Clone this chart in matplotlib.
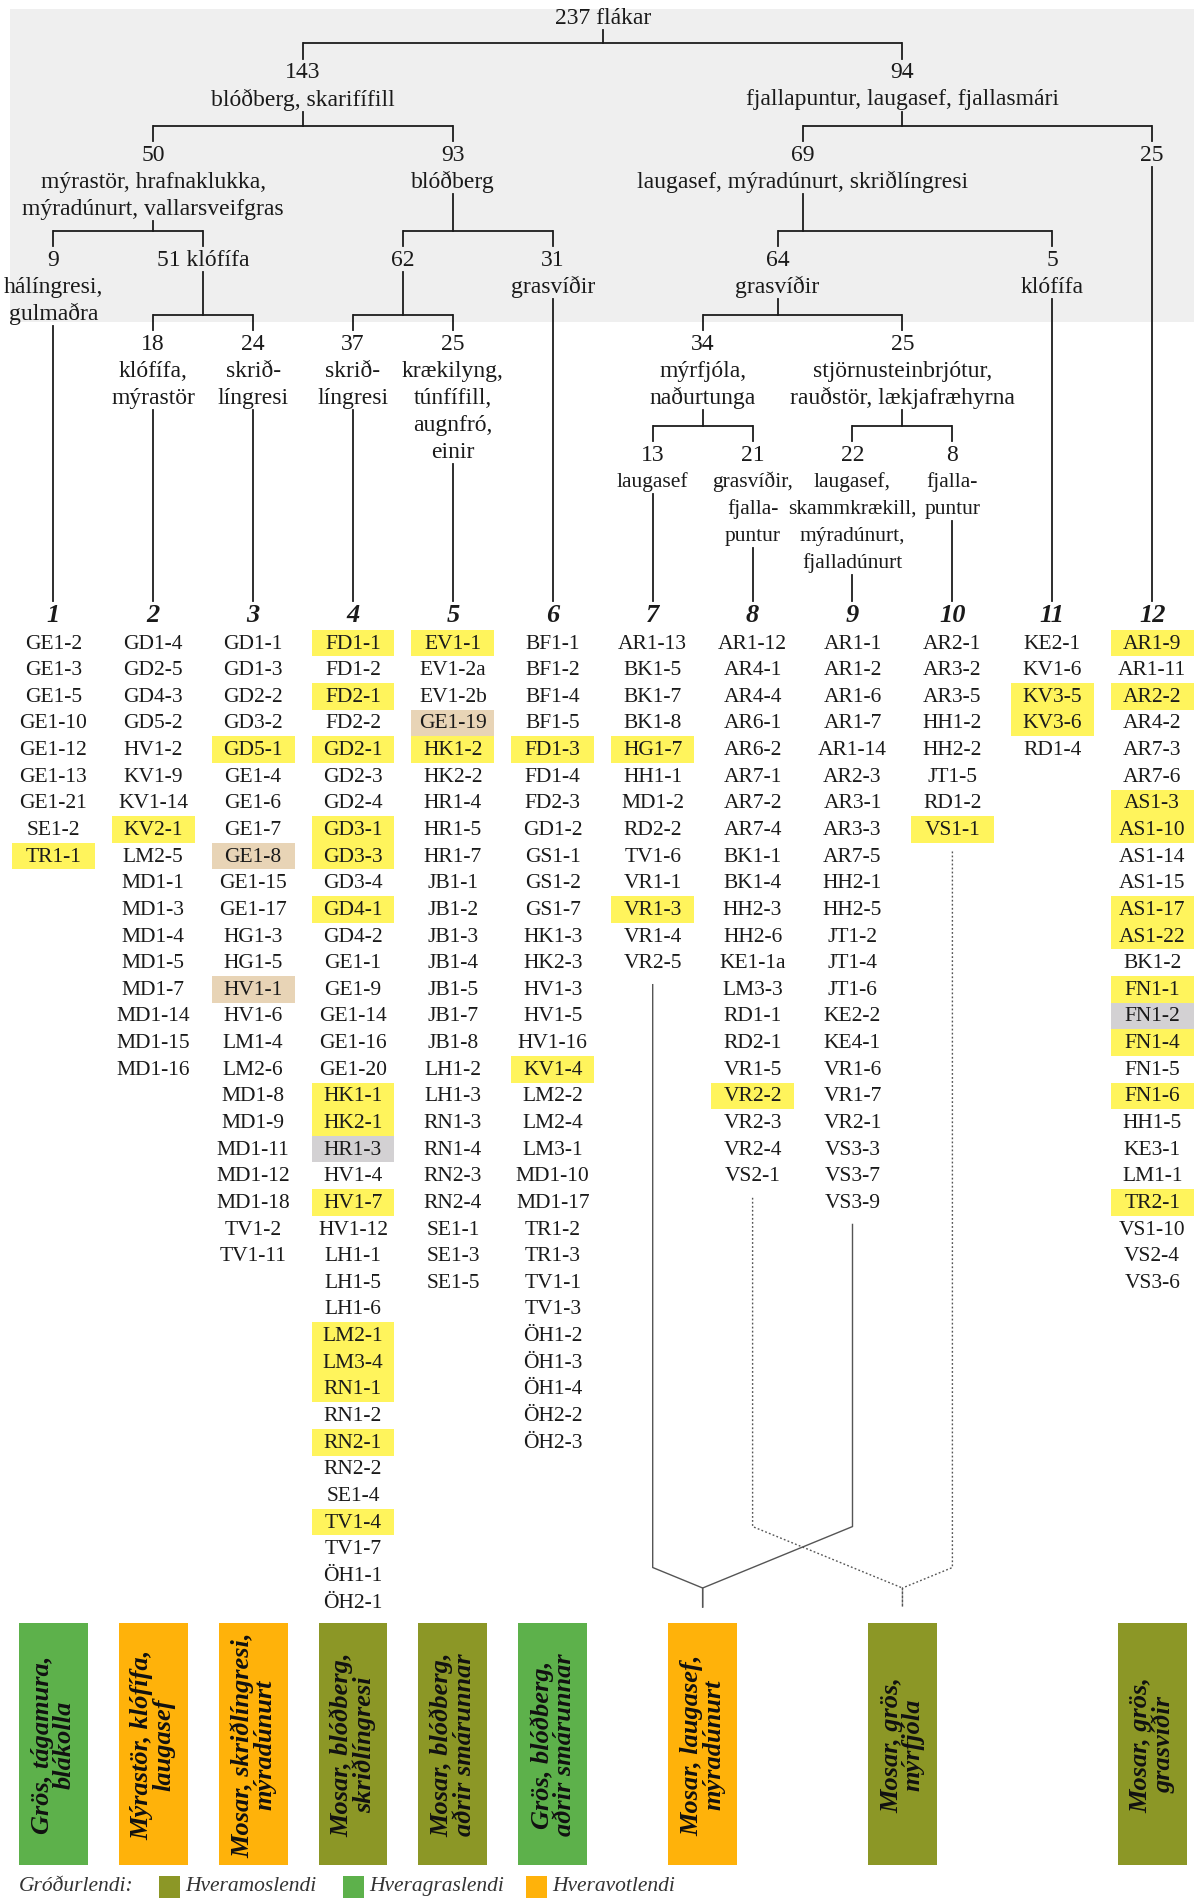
import matplotlib
matplotlib.use("Agg")
import matplotlib.pyplot as plt
from matplotlib.patches import Rectangle

plt.rcParams["font.family"] = ["Liberation Serif", "DejaVu Serif"]

# ---------------- data ----------------
total_label = "237 flákar"

cluster_names = ["1", "2", "3", "4", "5", "6", "7", "8", "9", "10", "11", "12"]

cluster_1 = ["GE1-2", "GE1-3", "GE1-5", "GE1-10", "GE1-12", "GE1-13", "GE1-21", "SE1-2", "TR1-1"]
cluster_2 = ["GD1-4", "GD2-5", "GD4-3", "GD5-2", "HV1-2", "KV1-9", "KV1-14", "KV2-1", "LM2-5",
             "MD1-1", "MD1-3", "MD1-4", "MD1-5", "MD1-7", "MD1-14", "MD1-15", "MD1-16"]
cluster_3 = ["GD1-1", "GD1-3", "GD2-2", "GD3-2", "GD5-1", "GE1-4", "GE1-6", "GE1-7", "GE1-8",
             "GE1-15", "GE1-17", "HG1-3", "HG1-5", "HV1-1", "HV1-6", "LM1-4", "LM2-6", "MD1-8",
             "MD1-9", "MD1-11", "MD1-12", "MD1-18", "TV1-2", "TV1-11"]
cluster_4 = ["FD1-1", "FD1-2", "FD2-1", "FD2-2", "GD2-1", "GD2-3", "GD2-4", "GD3-1", "GD3-3",
             "GD3-4", "GD4-1", "GD4-2", "GE1-1", "GE1-9", "GE1-14", "GE1-16", "GE1-20", "HK1-1",
             "HK2-1", "HR1-3", "HV1-4", "HV1-7", "HV1-12", "LH1-1", "LH1-5", "LH1-6", "LM2-1",
             "LM3-4", "RN1-1", "RN1-2", "RN2-1", "RN2-2", "SE1-4", "TV1-4", "TV1-7", "ÖH1-1", "ÖH2-1"]
cluster_5 = ["EV1-1", "EV1-2a", "EV1-2b", "GE1-19", "HK1-2", "HK2-2", "HR1-4", "HR1-5", "HR1-7",
             "JB1-1", "JB1-2", "JB1-3", "JB1-4", "JB1-5", "JB1-7", "JB1-8", "LH1-2", "LH1-3",
             "RN1-3", "RN1-4", "RN2-3", "RN2-4", "SE1-1", "SE1-3", "SE1-5"]
cluster_6 = ["BF1-1", "BF1-2", "BF1-4", "BF1-5", "FD1-3", "FD1-4", "FD2-3", "GD1-2", "GS1-1",
             "GS1-2", "GS1-7", "HK1-3", "HK2-3", "HV1-3", "HV1-5", "HV1-16", "KV1-4", "LM2-2",
             "LM2-4", "LM3-1", "MD1-10", "MD1-17", "TR1-2", "TR1-3", "TV1-1", "TV1-3", "ÖH1-2",
             "ÖH1-3", "ÖH1-4", "ÖH2-2", "ÖH2-3"]
cluster_7 = ["AR1-13", "BK1-5", "BK1-7", "BK1-8", "HG1-7", "HH1-1", "MD1-2", "RD2-2", "TV1-6",
             "VR1-1", "VR1-3", "VR1-4", "VR2-5"]
cluster_8 = ["AR1-12", "AR4-1", "AR4-4", "AR6-1", "AR6-2", "AR7-1", "AR7-2", "AR7-4", "BK1-1",
             "BK1-4", "HH2-3", "HH2-6", "KE1-1a", "LM3-3", "RD1-1", "RD2-1", "VR1-5", "VR2-2",
             "VR2-3", "VR2-4", "VS2-1"]
cluster_9 = ["AR1-1", "AR1-2", "AR1-6", "AR1-7", "AR1-14", "AR2-3", "AR3-1", "AR3-3", "AR7-5",
             "HH2-1", "HH2-5", "JT1-2", "JT1-4", "JT1-6", "KE2-2", "KE4-1", "VR1-6", "VR1-7",
             "VR2-1", "VS3-3", "VS3-7", "VS3-9"]
cluster_10 = ["AR2-1", "AR3-2", "AR3-5", "HH1-2", "HH2-2", "JT1-5", "RD1-2", "VS1-1"]
cluster_11 = ["KE2-1", "KV1-6", "KV3-5", "KV3-6", "RD1-4"]
cluster_12 = ["AR1-9", "AR1-11", "AR2-2", "AR4-2", "AR7-3", "AR7-6", "AS1-3", "AS1-10", "AS1-14",
              "AS1-15", "AS1-17", "AS1-22", "BK1-2", "FN1-1", "FN1-2", "FN1-4", "FN1-5", "FN1-6",
              "HH1-5", "KE3-1", "LM1-1", "TR2-1", "VS1-10", "VS2-4", "VS3-6"]

clusters = [cluster_1, cluster_2, cluster_3, cluster_4, cluster_5, cluster_6,
            cluster_7, cluster_8, cluster_9, cluster_10, cluster_11, cluster_12]

highlight_yellow = ["TR1-1", "KV2-1", "GD5-1", "FD1-1", "FD2-1", "GD2-1", "GD3-1", "GD3-3", "GD4-1",
                    "HK1-1", "HK2-1", "HV1-7", "LM2-1", "LM3-4", "RN1-1", "RN2-1", "TV1-4", "EV1-1",
                    "HK1-2", "FD1-3", "KV1-4", "HG1-7", "VR1-3", "VR2-2", "VS1-1", "KV3-5", "KV3-6",
                    "AR1-9", "AR2-2", "AS1-3", "AS1-10", "AS1-17", "AS1-22", "FN1-1", "FN1-4",
                    "FN1-6", "TR2-1"]
highlight_tan = ["GE1-8", "HV1-1", "GE1-19"]
highlight_gray = ["HR1-3", "FN1-2"]

# tree nodes: number and describing species
node_numbers = {"root": "", "n143": "143", "n94": "94", "n50": "50", "n93": "93", "n69": "69",
                "n25a": "25", "n9": "9", "n51": "51 klófífa", "n62": "62", "n31": "31", "n64": "64",
                "n5": "5", "n18": "18", "n24": "24", "n37": "37", "n25b": "25", "n34": "34",
                "n25c": "25", "n13": "13", "n21": "21", "n22": "22", "n8": "8"}
node_descriptions = {
    "root": [],
    "n143": ["blóðberg, skarifífill"],
    "n94": ["fjallapuntur, laugasef, fjallasmári"],
    "n50": ["mýrastör, hrafnaklukka,", "mýradúnurt, vallarsveifgras"],
    "n93": ["blóðberg"],
    "n69": ["laugasef, mýradúnurt, skriðlíngresi"],
    "n25a": [],
    "n9": ["hálíngresi,", "gulmaðra"],
    "n51": [],
    "n62": [],
    "n31": ["grasvíðir"],
    "n64": ["grasvíðir"],
    "n5": ["klófífa"],
    "n18": ["klófífa,", "mýrastör"],
    "n24": ["skrið-", "língresi"],
    "n37": ["skrið-", "língresi"],
    "n25b": ["krækilyng,", "túnfífill,", "augnfró,", "einir"],
    "n34": ["mýrfjóla,", "naðurtunga"],
    "n25c": ["stjörnusteinbrjótur,", "rauðstör, lækjafræhyrna"],
    "n13": ["laugasef"],
    "n21": ["grasvíðir,", "fjalla-", "puntur"],
    "n22": ["laugasef,", "skammkrækill,", "mýradúnurt,", "fjalladúnurt"],
    "n8": ["fjalla-", "puntur"],
}
node_children = {
    "root": ["n143", "n94"],
    "n143": ["n50", "n93"],
    "n94": ["n69", "n25a"],
    "n50": ["n9", "n51"],
    "n93": ["n62", "n31"],
    "n69": ["n64", "n5"],
    "n51": ["n18", "n24"],
    "n62": ["n37", "n25b"],
    "n64": ["n34", "n25c"],
    "n34": ["n13", "n21"],
    "n25c": ["n22", "n8"],
}
# leaf node -> cluster number
node_cluster = {"n9": 1, "n18": 2, "n24": 3, "n37": 4, "n25b": 5, "n31": 6, "n13": 7,
                "n21": 8, "n22": 9, "n8": 10, "n5": 11, "n25a": 12}

vegetation_texts = ["Grös, tágamura,\nblákolla", "Mýrastör, klófífa,\nlaugasef",
                    "Mosar, skriðlíngresi,\nmýradúnurt", "Mosar, blóðberg,\nskriðlíngresi",
                    "Mosar, blóðberg,\naðrir smárunnar", "Grös, blóðberg,\naðrir smárunnar",
                    "Mosar, laugasef,\nmýradúnurt", "Mosar, grös,\nmýrfjóla", "Mosar, grös,\ngrasvíðir"]
vegetation_types = ["gras", "votlendi", "votlendi", "mosa", "mosa", "gras", "votlendi", "mosa", "mosa"]
vegetation_clusters = [[1], [2], [3], [4], [5], [6], [7, 9], [8, 10], [12]]

legend_title = "Gróðurlendi:"
legend_labels = ["Hveramoslendi", "Hveragraslendi", "Hveravotlendi"]
legend_types = ["mosa", "gras", "votlendi"]

# ---------------- layout / style ----------------
type_colors = {"mosa": "#8C9726", "gras": "#5DB14B", "votlendi": "#FFB20A"}
YELLOW, TAN, GRAY = "#FFF45C", "#E8D4B6", "#D3D1D3"
LINE_C = "#1c1c1c"
TXT_C = "#1a1a1a"

W, H = 1194, 1899
X0, DX = 53.3, 99.9
fig = plt.figure(figsize=(W / 100, H / 100), dpi=100)
ax = fig.add_axes([0, 0, 1, 1])
ax.set_xlim(-X0 / DX, (W - X0) / DX)
ax.set_ylim(H, 0)
ax.axis("off")

def px(xpix):
    return (xpix - X0) / DX

# grey background of the upper tree
ax.add_patch(Rectangle((px(10), 10), px(1194) - px(10), 313, facecolor="#EFEFEF",
                       edgecolor="none", zorder=0))

node_x = {"root": 5.5, "n143": 2.5, "n94": 8.5, "n50": 1.0, "n93": 4.0, "n69": 7.5, "n25a": 11,
          "n9": 0, "n51": 1.5, "n62": 3.5, "n31": 5, "n64": 7.25, "n5": 10,
          "n18": 1, "n24": 2, "n37": 3, "n25b": 4, "n34": 6.5, "n25c": 8.5,
          "n13": 6, "n21": 7, "n22": 8, "n8": 9}
node_level = {"root": 0, "n143": 1, "n94": 1, "n50": 2, "n93": 2, "n69": 2, "n25a": 2,
              "n9": 3, "n51": 3, "n62": 3, "n31": 3, "n64": 3, "n5": 3,
              "n18": 4, "n24": 4, "n37": 4, "n25b": 4, "n34": 4, "n25c": 4,
              "n13": 5, "n21": 5, "n22": 5, "n8": 5}
level_y = {0: 18, 1: 72.7, 2: 155, 3: 260, 4: 344, 5: 455}
level_fs = {0: 17, 1: 17, 2: 17, 3: 17, 4: 17, 5: 15.5}
LINE = 27
FS_ITEM = 15.5
LEAF_END = 602
LW = 1.3

def node_bottom(n):
    return level_y[node_level[n]] + LINE * len(node_descriptions[n]) + 13

for n in node_x:
    x, y = node_x[n], level_y[node_level[n]]
    fs = level_fs[node_level[n]]
    label = total_label if n == "root" else node_numbers[n]
    ax.text(x, y, label, ha="center", va="center", fontsize=17, color=TXT_C, zorder=3)
    for k, line in enumerate(node_descriptions[n]):
        ax.text(x, y + LINE * (k + 1), line, ha="center", va="center", fontsize=fs,
                color=TXT_C, zorder=3)

for parent, kids in node_children.items():
    cy = level_y[node_level[kids[0]]]
    bar_y = cy - 28.5
    px_ = node_x[parent]
    start = node_bottom(parent) if parent != "root" else 31
    ax.plot([px_, px_], [start, bar_y], color=LINE_C, lw=LW, zorder=2)
    xs = [node_x[k] for k in kids]
    ax.plot([min(xs), max(xs)], [bar_y, bar_y], color=LINE_C, lw=LW, zorder=2,
            solid_capstyle="butt")
    for k in kids:
        ax.plot([node_x[k], node_x[k]], [bar_y, cy - 13], color=LINE_C, lw=LW, zorder=2)

for n, c in node_cluster.items():
    x = node_x[n]
    ax.plot([x, x], [node_bottom(n), LEAF_END], color=LINE_C, lw=LW, zorder=2)

# cluster columns
Y_NUM, Y0, STEP = 615, 644, 26.64
for i, (name, items) in enumerate(zip(cluster_names, clusters)):
    ax.text(i, Y_NUM, name, ha="center", va="center", fontsize=19, fontweight="bold",
            fontstyle="italic", color=TXT_C)
    for j, lab in enumerate(items):
        y = Y0 + j * STEP
        col = None
        if lab in highlight_yellow:
            col = YELLOW
        elif lab in highlight_tan:
            col = TAN
        elif lab in highlight_gray:
            col = GRAY
        if col:
            ax.add_patch(Rectangle((i - 0.415, y - STEP / 2), 0.83, STEP, facecolor=col,
                                   edgecolor="none", zorder=1))
        ax.text(i, y, lab, ha="center", va="center", fontsize=FS_ITEM, color=TXT_C, zorder=3)

# vegetation boxes
box_x = [0, 1, 2, 3, 4, 5, 6.5, 8.5, 11]
BOX_TOP, BOX_H, BOX_W = 1624, 242, 0.69
JUNC_Y, STEM_END, SLOPE = 1589, 1608, 0.41
for b, (txt, typ, cl) in enumerate(zip(vegetation_texts, vegetation_types, vegetation_clusters)):
    xb = box_x[b]
    ax.add_patch(Rectangle((xb - BOX_W / 2, BOX_TOP), BOX_W, BOX_H,
                           facecolor=type_colors[typ], edgecolor="none", zorder=1))
    ax.text(xb, BOX_TOP + BOX_H / 2, txt, rotation=90, ha="center", va="center",
            multialignment="center", fontsize=19, fontweight="bold", fontstyle="italic",
            color="#111111", linespacing=0.95, zorder=3)
    if len(cl) > 1:
        ls = "-" if b == 6 else (0, (1.3, 1.6))
        for c in cl:
            xc = c - 1
            top = Y0 + (len(clusters[c - 1]) - 1) * STEP + 22
            dstart = JUNC_Y - SLOPE * abs(xc - xb) * DX
            ax.plot([xc, xc, xb, xb], [top, dstart, JUNC_Y, STEM_END], color="#555555",
                    lw=1.0, ls=ls, zorder=2)

# legend
ax.text(px(19), 1887, legend_title, ha="left", va="center", fontsize=15.5, fontstyle="italic",
        color="#333333")
leg_x = [159, 343, 526]
for lx, lab, typ in zip(leg_x, legend_labels, legend_types):
    ax.add_patch(Rectangle((px(lx), 1877), px(lx + 21) - px(lx), 24,
                           facecolor=type_colors[typ], edgecolor="none"))
    ax.text(px(lx + 26), 1887, lab, ha="left", va="center", fontsize=15.5, fontstyle="italic",
            color="#333333")

fig.savefig("out.png", dpi=100, facecolor="white")
